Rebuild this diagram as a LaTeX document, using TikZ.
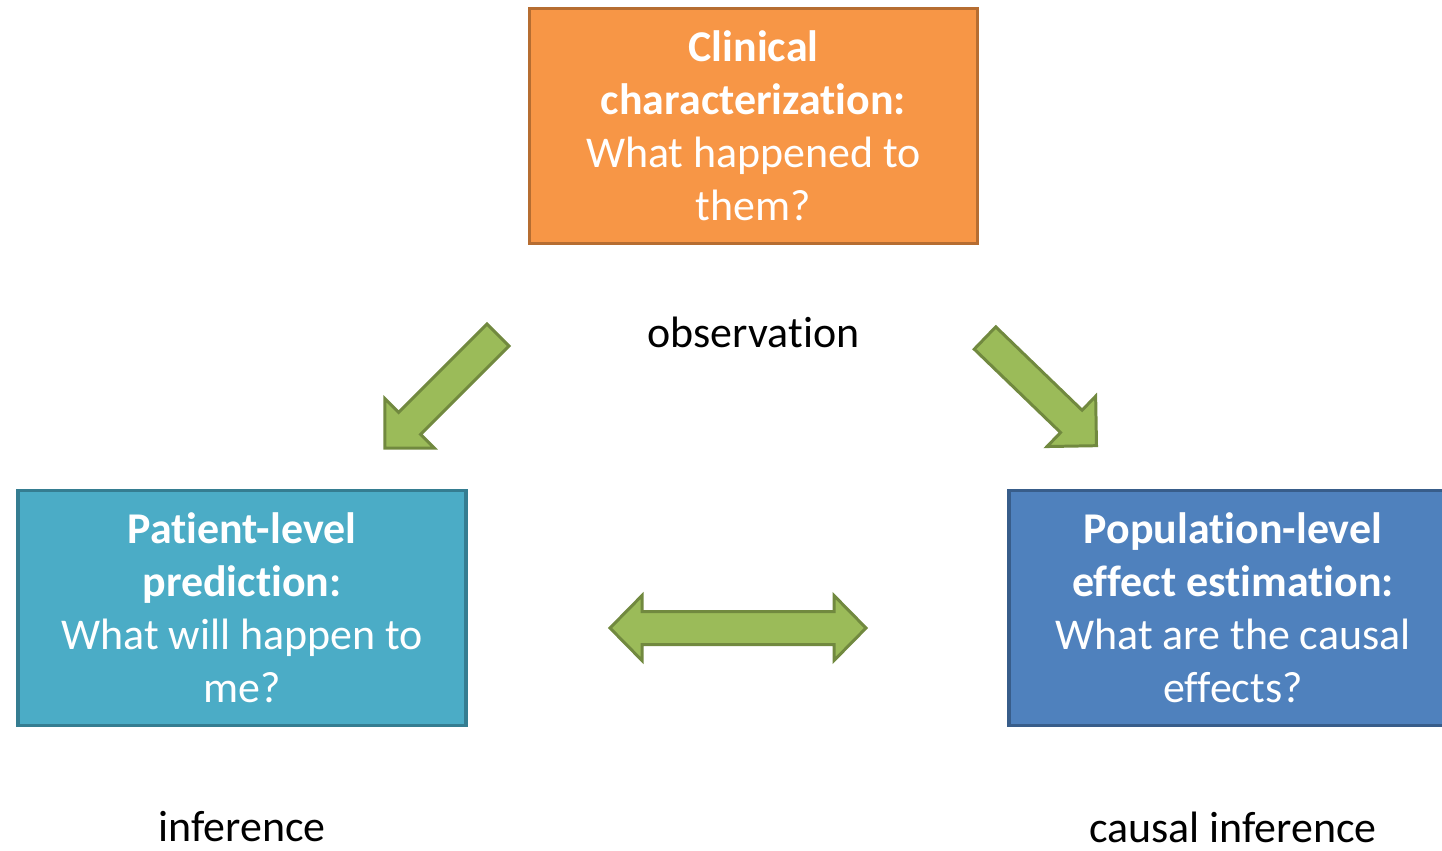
\documentclass[tikz,border=0pt]{standalone}
\usepackage{fontspec}
\setmainfont{Carlito}[Ligatures=NoCommon, Contextuals=NoAlternate]
\usetikzlibrary{positioning}

\definecolor{charfill}{HTML}{F79646}
\definecolor{chardraw}{HTML}{B66D31}
\definecolor{predfill}{HTML}{4BACC6}
\definecolor{preddraw}{HTML}{357D91}
\definecolor{estfill}{HTML}{4F81BD}
\definecolor{estdraw}{HTML}{385D8A}
\definecolor{arrfill}{HTML}{9BBB59}
\definecolor{arrdraw}{HTML}{71893F}

\begin{document}
\begin{tikzpicture}[x=0.02cm, y=0.02cm,
  box/.style={draw, line width=1.8pt, rectangle, minimum width=8.96cm, minimum height=4.7cm,
    align=center, text=white, font=\fontsize{25}{30.2}\selectfont},
  lbl/.style={font=\fontsize{25}{30.2}\selectfont, inner sep=0pt},
  greenarrow/.style={draw=arrdraw, fill=arrfill, line width=1.7pt}]
  \useasboundingbox (0,0) rectangle (1442,-850);

  \node[box, fill=charfill, draw=chardraw] (charac) at (753.5,-126) {\textbf{Clinical}\\\textbf{characterization:}\\What happened to\\them?};
  \node[box, fill=predfill, draw=preddraw] (pred) at (242,-608) {\textbf{Patient-level}\\\textbf{prediction:}\\What will happen to\\me?};
  \node[box, fill=estfill, draw=estdraw] (est) at (1233,-608) {\textbf{Population-level}\\\textbf{effect estimation:}\\What are the causal\\effects?};

  \node[lbl] (obs) at (753.5,-332) {observation};
  \node[lbl] (inf) at (242,-827) {inference};
  \node[lbl] (cinf) at (1233,-827) {causal inference};

  % block arrows
  \draw[greenarrow, shift={(498,-335)}, rotate=225] (0,-15.5) -- (125,-15.5) -- (125,-35) -- (160,0) -- (125,35) -- (125,15.5) -- (0,15.5) -- cycle;
  \draw[greenarrow, shift={(985,-338)}, rotate=-44] (0,-15.5) -- (120,-15.5) -- (120,-35) -- (155,0) -- (120,35) -- (120,15.5) -- (0,15.5) -- cycle;
  \draw[greenarrow] (610,-628) -- (642,-595.5) -- (642,-611.5) -- (834,-611.5) -- (834,-595.5) -- (866,-628) -- (834,-660.5) -- (834,-644.5) -- (642,-644.5) -- (642,-660.5) -- cycle;
\end{tikzpicture}
\end{document}
